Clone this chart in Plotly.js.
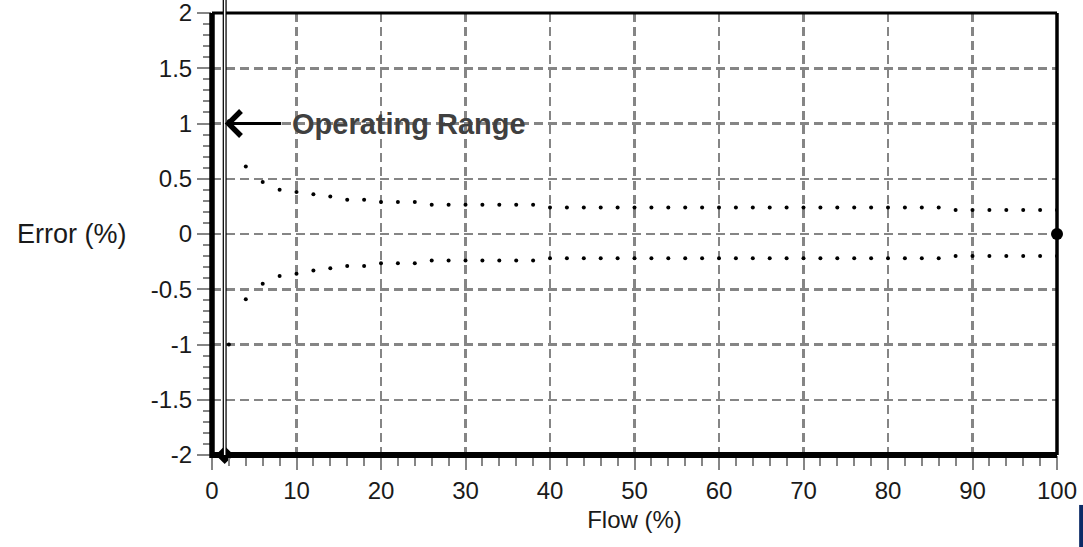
<!DOCTYPE html>
<html>
<head>
<meta charset="utf-8">
<script src="https://cdn.plot.ly/plotly-3.0.1.min.js"></script>
<style>html,body{margin:0;padding:0;background:#fff;}#chart{width:1083px;height:547px;}</style>
</head>
<body>
<div id="chart"></div>
<script>
// ---- data ----
const flow = [2,4,6,8,10,12,14,16,18,20,22,24,26,28,30,32,34,36,38,40,
              42,44,46,48,50,52,54,56,58,60,62,64,66,68,70,72,74,76,78,80,
              82,84,86,88,90,92,94,96,98,100];
const upperError = [1.02,0.61,0.47,0.40,0.38,0.36,0.34,0.31,0.31,0.29,0.29,0.29,0.265,0.265,0.265,0.265,0.265,0.265,0.265,0.24,
                    0.24,0.24,0.24,0.24,0.24,0.24,0.24,0.24,0.24,0.24,0.24,0.24,0.24,0.24,0.24,0.24,0.24,0.24,0.24,0.24,
                    0.24,0.24,0.24,0.217,0.217,0.217,0.217,0.217,0.217,0.217];
const lowerError = [-1.0,-0.59,-0.45,-0.38,-0.36,-0.33,-0.31,-0.29,-0.29,-0.265,-0.265,-0.265,-0.24,-0.24,-0.24,-0.24,-0.24,-0.24,-0.24,-0.22,
                    -0.22,-0.22,-0.22,-0.22,-0.22,-0.22,-0.22,-0.22,-0.22,-0.22,-0.22,-0.22,-0.22,-0.22,-0.22,-0.22,-0.22,-0.22,-0.22,-0.22,
                    -0.22,-0.22,-0.22,-0.20,-0.20,-0.20,-0.20,-0.20,-0.20,-0.20];
const referencePointFlow = [100];
const referencePointError = [0];
const operatingStartFlow = [1.5];
const operatingStartError = [-2];
const operatingRangeStart = 1.5;
const annotationError = 1;

const xTickVals = [0,10,20,30,40,50,60,70,80,90,100];
const yTickVals = [-2,-1.5,-1,-0.5,0,0.5,1,1.5,2];
const yTickText = ['-2','-1.5','-1','-0.5','0','0.5','1','1.5','2'];

const FONT = 'Liberation Sans, Arial, sans-serif';
const GRID = '#858585';

const traces = [
  {x: flow, y: upperError, type: 'scatter', mode: 'markers', marker: {color: '#000', size: 4}, hoverinfo: 'skip'},
  {x: flow, y: lowerError, type: 'scatter', mode: 'markers', marker: {color: '#000', size: 4}, hoverinfo: 'skip'},
];

const shapes = [
  // plot frame
  {type: 'line', xref: 'paper', yref: 'paper', x0: 0, x1: 1, y0: 1, y1: 1, line: {color: '#000', width: 3}, layer: 'above'},
  {type: 'line', xref: 'paper', yref: 'paper', x0: 1, x1: 1, y0: 0, y1: 1, line: {color: '#000', width: 3.5}, layer: 'above'},
  {type: 'line', xref: 'paper', yref: 'paper', x0: 0, x1: 0, y0: -0.007, y1: 1, line: {color: '#000', width: 5.5}, layer: 'above'},
  {type: 'line', xref: 'paper', yref: 'paper', x0: 0, x1: 1, y0: 0, y1: 0, line: {color: '#000', width: 6}, layer: 'above'},
  // operating range double line
  {type: 'line', xref: 'x', yref: 'paper', x0: operatingRangeStart, x1: operatingRangeStart, y0: 0, y1: 1.05, line: {color: '#000', width: 4}, layer: 'above'},
  {type: 'line', xref: 'x', yref: 'paper', x0: operatingRangeStart, x1: operatingRangeStart, y0: 0, y1: 1.05, line: {color: '#fff', width: 1.5}, layer: 'above'},
  // navy corner block
  {type: 'rect', xref: 'paper', yref: 'paper', x0: 1.0262, x1: 1.04, y0: -0.113, y1: -0.25, fillcolor: '#0b2a66', line: {width: 0}, layer: 'above'}
];

const markerTraces = [
  {x: referencePointFlow, y: referencePointError, type: 'scatter', mode: 'markers', marker: {color: '#000', size: 12, symbol: 'circle'}, cliponaxis: false, hoverinfo: 'skip'},
  {x: operatingStartFlow, y: operatingStartError, type: 'scatter', mode: 'markers', marker: {color: '#000', size: 14, symbol: 'diamond'}, cliponaxis: false, hoverinfo: 'skip'}
];

const layout = {
  width: 1083, height: 547,
  margin: {l: 212, r: 26, t: 13, b: 92, pad: 0},
  paper_bgcolor: '#fff', plot_bgcolor: '#fff',
  showlegend: false,
  font: {family: FONT, size: 24, color: '#1a1a1a'},
  xaxis: {
    range: [0, 100], tickmode: 'array', tickvals: xTickVals,
    ticks: 'outside', ticklen: 14, tickwidth: 2, tickcolor: GRID,
    showgrid: true, gridcolor: GRID, gridwidth: 2.5, griddash: '9px,5px',
    zeroline: false, showline: false, ticklabeloverflow: 'allow',
    tickfont: {family: FONT, size: 24, color: '#1a1a1a'},
    minor: {tick0: 0, dtick: 2, ticks: 'outside', ticklen: 10, tickwidth: 2, tickcolor: GRID, showgrid: false},
    title: {text: 'Flow (%)', font: {family: FONT, size: 24, color: '#1a1a1a'}, standoff: 8}
  },
  yaxis: {
    range: [-2, 2], tickmode: 'array', tickvals: yTickVals, ticktext: yTickText,
    ticks: 'outside', ticklen: 14, tickwidth: 2, tickcolor: GRID,
    showgrid: true, gridcolor: GRID, gridwidth: 2.5, griddash: '9px,5px',
    zeroline: false, showline: false, ticklabeloverflow: 'allow',
    tickfont: {family: FONT, size: 24, color: '#1a1a1a'},
    minor: {tick0: 0, dtick: 0.1, ticks: 'outside', ticklen: 8, tickwidth: 2, tickcolor: GRID, showgrid: false}
  },
  shapes: shapes,
  annotations: [
    {xref: 'x', yref: 'y', x: operatingRangeStart, y: annotationError, text: '<b>Operating Range</b>',
     showarrow: true, arrowhead: 4, arrowsize: 1.6, arrowwidth: 3, arrowcolor: '#000',
     startstandoff: 9, standoff: 0,
     ax: 184, ay: 0, font: {family: FONT, size: 29, color: '#404040'}},
    {xref: 'paper', yref: 'y', x: -0.2331, y: 0, xanchor: 'left', yanchor: 'middle', showarrow: false,
     text: 'Error (%)', font: {family: FONT, size: 27, color: '#1a1a1a'}}
  ]
};

Plotly.newPlot('chart', traces.concat(markerTraces), layout, {staticPlot: true, displayModeBar: false});
</script>
</body>
</html>
